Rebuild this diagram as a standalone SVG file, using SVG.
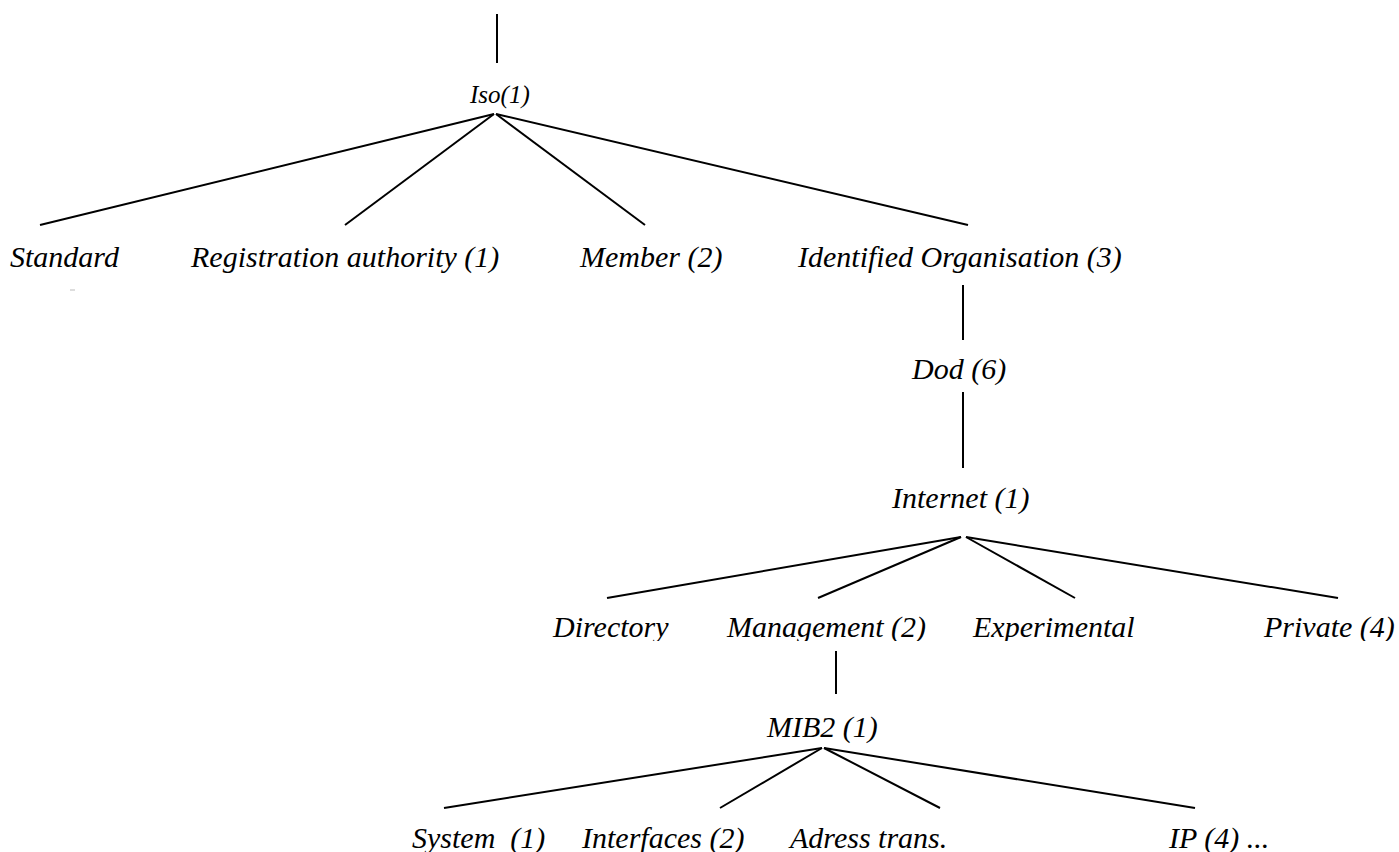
<svg xmlns="http://www.w3.org/2000/svg" width="1399" height="852" viewBox="0 0 1399 852">
<defs>
<style>
.lbl{font-family:"Liberation Serif","Times New Roman",serif;font-style:italic;font-size:30px;fill:#000}
.iso{font-size:25px}
.ln{stroke:#000;stroke-width:2;fill:none;stroke-linecap:butt}
</style>
<clipPath id="row3"><rect x="0" y="600" width="1399" height="41"/></clipPath>
</defs>
<rect width="1399" height="852" fill="#fff"/>
<g id="connectors">
<line class="ln" x1="497" y1="14" x2="497" y2="63"/>
<line class="ln" x1="494" y1="114" x2="40" y2="225"/>
<line class="ln" x1="494" y1="114" x2="345" y2="225"/>
<line class="ln" x1="496" y1="114" x2="645" y2="225"/>
<line class="ln" x1="496" y1="114" x2="968" y2="225"/>
<line class="ln" x1="963" y1="285" x2="963" y2="340"/>
<line class="ln" x1="963" y1="392" x2="963" y2="468"/>
<line class="ln" x1="961" y1="537" x2="607" y2="598"/>
<line class="ln" x1="961" y1="537" x2="818" y2="598"/>
<line class="ln" x1="966" y1="537" x2="1075" y2="598"/>
<line class="ln" x1="966" y1="537" x2="1338" y2="598"/>
<line class="ln" x1="836" y1="651" x2="836" y2="694"/>
<line class="ln" x1="822" y1="748" x2="444" y2="808"/>
<line class="ln" x1="822" y1="748" x2="720" y2="808"/>
<line class="ln" x1="824" y1="748" x2="940" y2="808"/>
<line class="ln" x1="824" y1="748" x2="1195" y2="808"/>
<line x1="70" y1="290" x2="75" y2="290" stroke="#bbb" stroke-width="1"/>
</g>
<g id="n-iso"><text class="lbl iso" x="470" y="103">Iso(1)</text></g>
<g id="n-standard"><text class="lbl" x="10" y="267">Standard</text></g>
<g id="n-registration"><text class="lbl" x="191" y="267">Registration authority (1)</text></g>
<g id="n-member"><text class="lbl" x="580" y="267">Member (2)</text></g>
<g id="n-identified"><text class="lbl" x="798" y="267">Identified Organisation (3)</text></g>
<g id="n-dod"><text class="lbl" x="912" y="379">Dod (6)</text></g>
<g id="n-internet"><text class="lbl" x="892" y="508">Internet (1)</text></g>
<g id="n-directory" clip-path="url(#row3)"><text class="lbl" x="553" y="637">Directory</text></g>
<g id="n-management" clip-path="url(#row3)"><text class="lbl" x="727" y="637">Management (2)</text></g>
<g id="n-experimental" clip-path="url(#row3)"><text class="lbl" x="973" y="637">Experimental</text></g>
<g id="n-private" clip-path="url(#row3)"><text class="lbl" x="1264" y="637">Private (4)</text></g>
<g id="n-mib2"><text class="lbl" x="767" y="737">MIB2 (1)</text></g>
<g id="n-system"><text class="lbl" x="412" y="848" xml:space="preserve">System  (1)</text></g>
<g id="n-interfaces"><text class="lbl" x="582" y="848">Interfaces (2)</text></g>
<g id="n-adress"><text class="lbl" x="790" y="848">Adress trans.</text></g>
<g id="n-ip"><text class="lbl" x="1169" y="848">IP (4) ...</text></g>
</svg>
